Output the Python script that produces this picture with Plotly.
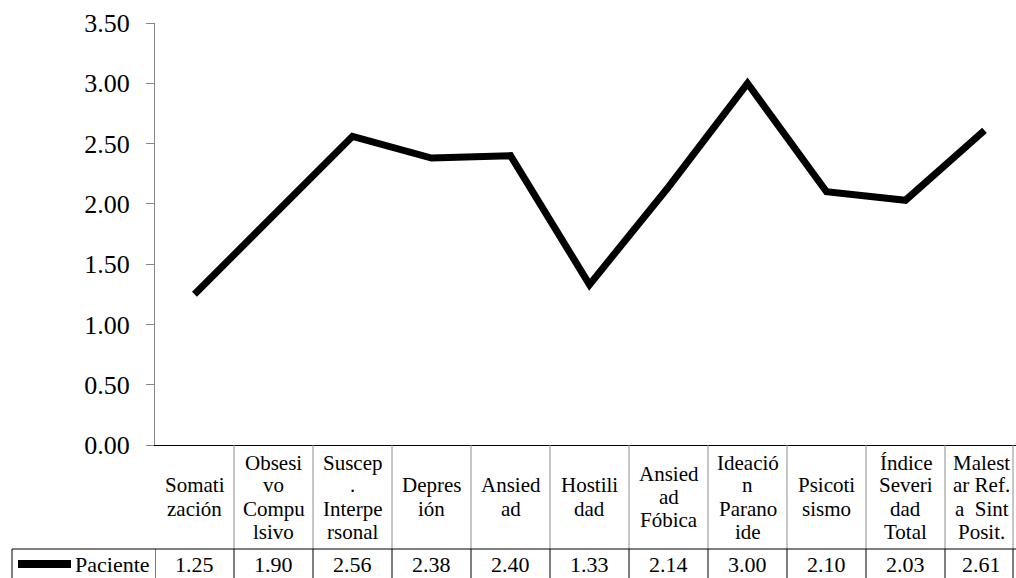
import plotly.graph_objects as go

# Escalas SCL-90-R del paciente
categorias = [
    "Somati<br>zación",
    "Obsesi<br>vo<br>Compu<br>lsivo",
    "Suscep<br>.<br>Interpe<br>rsonal",
    "Depres<br>ión",
    "Ansied<br>ad",
    "Hostili<br>dad",
    "Ansied<br>ad<br>Fóbica",
    "Ideació<br>n<br>Parano<br>ide",
    "Psicoti<br>sismo",
    "Índice<br>Severi<br>dad<br>Total",
    "Malest<br>ar Ref.<br>a  Sint<br>Posit.",
]
paciente = [1.25, 1.90, 2.56, 2.38, 2.40, 1.33, 2.14, 3.00, 2.10, 2.03, 2.61]
serie = "Paciente"
ticks_y = [0, 0.5, 1.0, 1.5, 2.0, 2.5, 3.0, 3.5]

W, H = 1016, 578
ML, MR, MT, MB = 155, 0, 23, 133
PW = W - ML - MR
PH = H - MT - MB
COL = 79  # ancho de cada columna de la tabla, en píxeles
EDGE = 1013  # borde derecho del área del gráfico
FONT = "Liberation Serif"

n = len(categorias)
xs = list(range(n))
x_max = -0.5 + PW / COL

fig = go.Figure()
fig.add_trace(go.Scatter(
    x=xs, y=paciente, mode="lines", name=serie,
    line=dict(color="#000000", width=7, shape="linear"),
    hoverinfo="skip", showlegend=False, cliponaxis=False,
))


def px_to_paper_y(py):
    return (H - MB - py) / PH


def px_to_paper_x(px):
    return (px - ML) / PW


# Tabla de datos bajo el eje
ROW_TOP = 549
y_top = px_to_paper_y(H - MB)
y_row = px_to_paper_y(ROW_TOP)
y_bot = px_to_paper_y(H + 2)
shapes = []
black = dict(color="#000000", width=1)
grey = dict(color="#8c8c8c", width=1)
for i in range(1, n):
    shapes.append(dict(type="line", xref="x", yref="paper",
                       x0=i - 0.5, x1=i - 0.5, y0=y_top, y1=y_row, line=grey))
for i in range(0, n):
    shapes.append(dict(type="line", xref="x", yref="paper",
                       x0=i - 0.5, x1=i - 0.5, y0=y_row, y1=y_bot, line=black))
# borde derecho
shapes.append(dict(type="line", xref="paper", yref="paper",
                   x0=px_to_paper_x(EDGE), x1=px_to_paper_x(EDGE),
                   y0=y_top, y1=y_row, line=grey))
shapes.append(dict(type="line", xref="paper", yref="paper",
                   x0=px_to_paper_x(EDGE), x1=px_to_paper_x(EDGE),
                   y0=y_row, y1=y_bot, line=black))
# fila de la serie
shapes.append(dict(type="line", xref="paper", yref="paper",
                   x0=px_to_paper_x(12), x1=1, y0=y_row, y1=y_row, line=black))
shapes.append(dict(type="line", xref="paper", yref="paper",
                   x0=px_to_paper_x(12), x1=px_to_paper_x(12), y0=y_row, y1=y_bot,
                   line=black))
# muestra de la leyenda
shapes.append(dict(type="line", xref="paper", yref="paper",
                   x0=px_to_paper_x(18), x1=px_to_paper_x(71),
                   y0=px_to_paper_y(564), y1=px_to_paper_y(564),
                   line=dict(color="#000000", width=8)))

annotations = []
header_mid = (H - MB + ROW_TOP) / 2
lh = 23
for i, cat in enumerate(categorias):
    lines = cat.split("<br>")
    k = len(lines)
    # la última columna queda recortada por el borde derecho
    shift = -3 if i == n - 1 else 0
    for j, txt in enumerate(lines):
        cy = header_mid + (j - (k - 1) / 2) * lh
        annotations.append(dict(
            x=i, xref="x", y=px_to_paper_y(cy), yref="paper", xshift=shift,
            text=txt, showarrow=False, xanchor="center", yanchor="middle",
            font=dict(family=FONT, size=21, color="#000000"),
        ))
    annotations.append(dict(
        x=i, xref="x", y=px_to_paper_y(564), yref="paper", xshift=shift,
        text=f"{paciente[i]:.2f}", showarrow=False, xanchor="center", yanchor="middle",
        font=dict(family=FONT, size=22, color="#000000"),
    ))
annotations.append(dict(
    x=px_to_paper_x(73), xref="paper", y=px_to_paper_y(564), yref="paper",
    text=serie, showarrow=False, xanchor="left", yanchor="middle",
    font=dict(family=FONT, size=22, color="#000000"),
))

fig.update_layout(
    width=W, height=H,
    margin=dict(l=ML, r=MR, t=MT, b=MB, pad=0),
    paper_bgcolor="#ffffff", plot_bgcolor="#ffffff",
    font=dict(family=FONT, color="#000000"),
    xaxis=dict(range=[-0.5, x_max], showticklabels=False, showgrid=False,
               zeroline=False, showline=True, linecolor="#000000", linewidth=1,
               ticks="", fixedrange=True),
    yaxis=dict(range=[0, 3.5], tickvals=ticks_y, tickformat=".2f",
               showgrid=False, zeroline=False, showline=True,
               linecolor="#868686", linewidth=1, ticks="outside", ticklen=8,
               tickcolor="#868686", tickfont=dict(family=FONT, size=26, color="#000000"),
               ticklabelstandoff=11, fixedrange=True),
    shapes=shapes,
    annotations=annotations,
    showlegend=False,
)

fig.write_html("out.html")
